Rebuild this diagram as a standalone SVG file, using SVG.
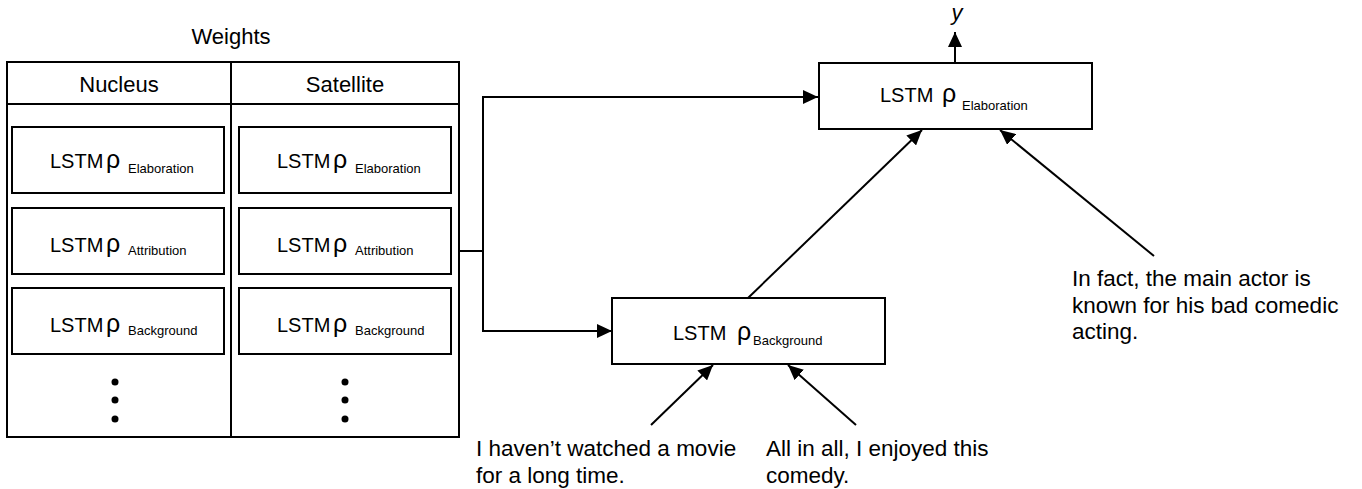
<svg xmlns="http://www.w3.org/2000/svg" width="1362" height="489" viewBox="0 0 1362 489">
<style>
text{font-family:"Liberation Sans",Arial,sans-serif;fill:#000}
.box{fill:#fff;stroke:#000;stroke-width:2}
.hdr{font-size:22px;text-anchor:middle}
.lstm{font-size:20px}
.rho{font-size:25px}
.sub{font-size:13px}
.note{font-size:22.5px}
.conn{fill:none;stroke:#000;stroke-width:2}
</style>
<defs>
<marker id="ah" markerUnits="userSpaceOnUse" markerWidth="16" markerHeight="14" refX="15" refY="7" orient="auto">
<path d="M0,0 L15,7 L0,14 z" fill="#000"/>
</marker>
</defs>
<rect width="1362" height="489" fill="#fff"/>

<g id="weights">
<text class="hdr" x="231" y="44">Weights</text>
<rect x="7" y="62" width="452" height="375" fill="#fff" stroke="#000" stroke-width="2"/>
<line x1="7" y1="104" x2="459" y2="104" stroke="#000" stroke-width="2"/>
<line x1="231" y1="62" x2="231" y2="437" stroke="#000" stroke-width="2"/>
<text class="hdr" x="119" y="92">Nucleus</text>
<text class="hdr" x="345" y="92">Satellite</text>
</g>

<g id="n-elab"><rect class="box" x="12" y="127" width="212" height="66"/>
<text class="lstm" x="50" y="168">LSTM</text><text class="rho" x="106" y="168">ρ</text><text class="sub" x="128" y="173">Elaboration</text></g>
<g id="n-attr"><rect class="box" x="12" y="208" width="212" height="66"/>
<text class="lstm" x="50" y="252">LSTM</text><text class="rho" x="106" y="252">ρ</text><text class="sub" x="128" y="255">Attribution</text></g>
<g id="n-back"><rect class="box" x="12" y="288" width="212" height="66"/>
<text class="lstm" x="50" y="332">LSTM</text><text class="rho" x="106" y="332">ρ</text><text class="sub" x="128" y="335">Background</text></g>
<g id="n-dots"><circle cx="115" cy="382" r="3.5"/><circle cx="115" cy="400" r="3.5"/><circle cx="115" cy="419" r="3.5"/></g>

<g id="s-elab"><rect class="box" x="239" y="127" width="212" height="66"/>
<text class="lstm" x="277" y="168">LSTM</text><text class="rho" x="333" y="168">ρ</text><text class="sub" x="355" y="173">Elaboration</text></g>
<g id="s-attr"><rect class="box" x="239" y="208" width="212" height="66"/>
<text class="lstm" x="277" y="252">LSTM</text><text class="rho" x="333" y="252">ρ</text><text class="sub" x="355" y="255">Attribution</text></g>
<g id="s-back"><rect class="box" x="239" y="288" width="212" height="66"/>
<text class="lstm" x="277" y="332">LSTM</text><text class="rho" x="333" y="332">ρ</text><text class="sub" x="355" y="335">Background</text></g>
<g id="s-dots"><circle cx="345" cy="382" r="3.5"/><circle cx="345" cy="400" r="3.5"/><circle cx="345" cy="419" r="3.5"/></g>

<g id="top-elab"><rect class="box" x="819" y="63" width="273" height="66"/>
<text class="lstm" x="880" y="102">LSTM</text><text class="rho" x="942" y="102">ρ</text><text class="sub" x="962" y="110">Elaboration</text></g>

<g id="bot-back"><rect class="box" x="612" y="298" width="273" height="66"/>
<text class="lstm" x="673" y="340">LSTM</text><text class="rho" x="737" y="340">ρ</text><text class="sub" x="753" y="345">Background</text></g>

<g id="y-label"><text x="957" y="20" font-size="22" font-style="italic" text-anchor="middle">y</text></g>

<g id="edu1"><text class="note" x="476" y="456">I haven’t watched a movie</text><text class="note" x="476" y="483">for a long time.</text></g>
<g id="edu2"><text class="note" x="766" y="456">All in all, I enjoyed this</text><text class="note" x="766" y="483">comedy.</text></g>
<g id="edu3"><text class="note" x="1072" y="286">In fact, the main actor is</text><text class="note" x="1072" y="313">known for his bad comedic</text><text class="note" x="1072" y="339">acting.</text></g>

<g id="connectors">
<line class="conn" x1="459" y1="251" x2="483" y2="251"/>
<polyline class="conn" points="483,251 483,97 818,97" marker-end="url(#ah)"/>
<polyline class="conn" points="483,251 483,331 612,331" marker-end="url(#ah)"/>
<line class="conn" x1="748" y1="298" x2="922" y2="130" marker-end="url(#ah)"/>
<line class="conn" x1="1154" y1="256" x2="1000" y2="130" marker-end="url(#ah)"/>
<line class="conn" x1="651" y1="425" x2="713" y2="365" marker-end="url(#ah)"/>
<line class="conn" x1="856" y1="425" x2="788" y2="365" marker-end="url(#ah)"/>
<line class="conn" x1="955" y1="63" x2="955" y2="32" marker-end="url(#ah)"/>
</g>
</svg>
